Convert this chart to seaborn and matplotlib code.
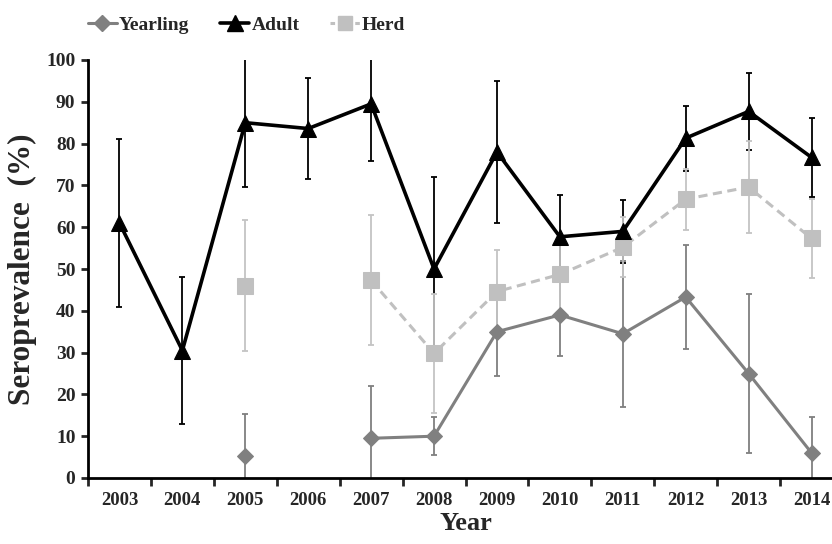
import numpy as np
import pandas as pd
import seaborn as sns
import matplotlib.pyplot as plt
from matplotlib.lines import Line2D

years = [2003, 2004, 2005, 2006, 2007, 2008, 2009, 2010, 2011, 2012, 2013, 2014]
nan = np.nan
yearling = [nan, nan, 5.3, nan, 9.5, 10.0, 35.0, 39.0, 34.5, 43.3, 25.0, 6.0]
yearling_err = [nan, nan, 10.0, nan, 12.5, 4.5, 10.6, 9.8, 17.4, 12.5, 19.0, 8.6]
adult = [61.0, 30.5, 85.0, 83.6, 89.5, 50.0, 78.0, 57.7, 59.0, 81.3, 87.7, 76.7]
adult_err = [20.0, 17.7, 15.4, 12.0, 13.7, 22.0, 17.0, 10.0, 7.5, 7.8, 9.3, 9.5]
herd = [nan, nan, 46.0, nan, 47.3, 29.8, 44.6, 48.7, 55.2, 66.7, 69.6, 57.3]
herd_err = [nan, nan, 15.7, nan, 15.6, 14.2, 10.0, 9.0, 7.2, 7.3, 11.0, 9.4]

sns.set_style("ticks")
plt.rcParams['font.family'] = ['Liberation Serif', 'DejaVu Serif']
plt.rcParams['font.weight'] = 'bold'

fig = plt.figure(figsize=(8.32, 5.44), dpi=100)
ax = fig.add_axes([88 / 832, 66 / 544, 755 / 832, 418 / 544])

pos = np.arange(len(years))


def frame(vals):
    df = pd.DataFrame({"pos": pos, "val": vals})
    # split into segments so gaps in the data are not bridged
    df["seg"] = df["val"].isna().cumsum()
    return df.dropna()


series = [
    ("Yearling", yearling, yearling_err, "#808080", "#7f7f7f", "D", 8.5, 2.2, "-", 2.0, 3.0),
    ("Adult", adult, adult_err, "black", "black", "^", 12, 2.6, "-", 2.1, 3.2),
    ("Herd", herd, herd_err, "#c0c0c0", "#c4c4c4", "s", 12, 2.2, (0, (3.0, 1.8)), 2.2, 3.1),
]

for name, vals, err, col, ecol, mk, ms, lw, ls, ez, lz in series:
    ax.errorbar(pos, vals, yerr=err, fmt="none", ecolor=ecol, elinewidth=1.3,
                capsize=2.2, capthick=1.3, zorder=ez)
    sns.lineplot(data=frame(vals), x="pos", y="val", units="seg", estimator=None,
                 color=col, marker=mk, markersize=ms, markeredgecolor=col,
                 linewidth=lw, linestyle=ls, ax=ax, zorder=lz, legend=False)

ax.set_xlim(-0.5, 11.5)
ax.set_ylim(0, 100)
ax.set_yticks(range(0, 101, 10))
ax.set_xticks(pos)
ax.set_xticklabels([str(y) for y in years])
ax.set_xticks(np.arange(-0.5, 12, 1), minor=True)
ax.tick_params(axis="x", which="major", length=0, pad=10, labelsize=13.5)
ax.tick_params(axis="x", which="minor", length=6, width=2, direction="out")
ax.tick_params(axis="y", length=5, width=2, direction="out", pad=4, labelsize=14)
for lab in ax.get_xticklabels() + ax.get_yticklabels():
    lab.set_fontweight("bold")

sns.despine(ax=ax)
for sp in ["left", "bottom"]:
    ax.spines[sp].set_linewidth(2)
    ax.spines[sp].set_color("black")

ax.set_xlabel("Year", fontsize=19, fontweight="bold", labelpad=2)
ax.set_ylabel("Seroprevalence  (%)", fontsize=22.5, fontweight="bold", labelpad=7)

handles = [
    Line2D([], [], color="#808080", marker="D", markersize=8, linewidth=2.2),
    Line2D([], [], color="black", marker="^", markersize=11, linewidth=2.6),
    Line2D([], [], color="#c0c0c0", marker="s", markersize=10, linewidth=2.2,
           linestyle=(0, (1.5, 1.2))),
]
fig.legend(handles, ["Yearling", "Adult", "Herd"], loc="center left",
           bbox_to_anchor=(70 / 832, 1 - 25 / 544), ncol=3, frameon=False,
           handlelength=1.5, handletextpad=0.1, columnspacing=1.6,
           prop={"family": "Liberation Serif", "weight": "bold", "size": 14})

fig.savefig("out.png", dpi=100)
